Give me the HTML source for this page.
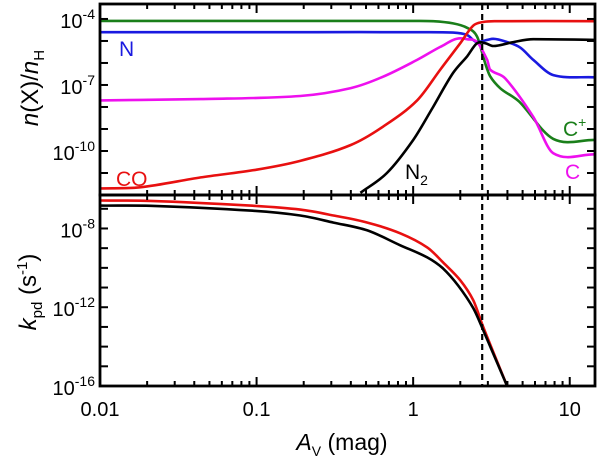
<!DOCTYPE html>
<html><head><meta charset="utf-8"><style>
html,body{margin:0;padding:0;background:#fff;}
svg{display:block;font-family:"Liberation Sans",Arial,sans-serif;}
</style></head><body>
<svg id="chart" width="600" height="459" viewBox="0 0 600 459" xmlns="http://www.w3.org/2000/svg"></svg>
<script>
// ---- data (A_V in mag, values as log10) ----
const coA   = [0.01,0.018,0.044,0.1,0.19,0.40,0.64,1.06,1.49,2.0,2.42,2.8,3.3,14.5];
const coY   = [-11.7,-11.65,-11.2,-10.85,-10.45,-9.73,-8.9,-7.7,-6.3,-5.1,-4.3,-4.14,-4.1,-4.1];
const n2A   = [0.46,0.68,1.0,1.34,1.8,2.21,2.56,2.88,3.24,4.36,5.85,14.5];
const n2Y   = [-11.9,-11.0,-9.5,-8.0,-6.45,-5.7,-5.1,-5.1,-5.23,-5.05,-4.92,-4.95];
const cpA   = [0.01,0.1,1.0,1.34,1.8,2.21,2.56,2.88,3.1,3.6,4.36,4.83,7.85,14.5];
const cpY   = [-4.09,-4.09,-4.09,-4.1,-4.2,-4.4,-4.8,-6.0,-6.6,-7.15,-7.55,-7.8,-9.45,-9.5];
const nA    = [0.01,0.1,1.0,1.8,2.21,2.56,2.97,3.24,3.99,4.83,5.85,7.85,14.5];
const nY    = [-4.6,-4.6,-4.6,-4.62,-4.73,-5.05,-4.95,-4.9,-5.05,-5.3,-5.86,-6.55,-6.65];
const cA    = [0.01,0.044,0.19,0.40,0.64,1.06,1.49,2.0,2.21,2.56,2.97,3.1,3.87,5.85,7.85,14.5];
const cY    = [-7.7,-7.64,-7.5,-7.14,-6.63,-5.86,-5.27,-4.88,-4.92,-5.05,-5.86,-6.3,-6.7,-8.45,-10.1,-10.15];
const kRedA = [0.01,0.021,0.091,0.19,0.31,0.51,0.83,1.23,1.55,2.0,2.42,2.8,3.98];
const kRedY = [-6.58,-6.6,-6.84,-7.04,-7.34,-7.7,-8.25,-8.96,-9.72,-10.63,-11.65,-13.0,-16];
const kBlkA = [0.01,0.021,0.091,0.19,0.31,0.51,0.83,1.23,1.55,1.94,2.42,2.8,3.98];
const kBlkY = [-6.84,-6.85,-7.09,-7.34,-7.7,-8.1,-8.86,-9.47,-10.03,-10.9,-12.05,-13.16,-16];
const xTickLabels = ["0.01","0.1","1","10"];
const topTickExp = ["-4","-7","-10"];
const botTickExp = ["-8","-12","-16"];
const dashedA = 2.76;

const svg=document.getElementById('chart');
const NS="http://www.w3.org/2000/svg";
const L=100,R=595;
const lxMin=-2,lxMax=Math.log10(14.5);
function X(a){return L+(Math.log10(a)-lxMin)/(lxMax-lxMin)*(R-L);}
const T={top:4,bot:195,ymax:-3.32,ymin:-12};
const B={top:195,bot:386,ymax:-6.3,ymin:-16};
function Y(p,v){return p.bot-(v-p.ymin)/(p.ymax-p.ymin)*(p.bot-p.top);}
function el(tag,attrs,parent){const e=document.createElementNS(NS,tag);for(const k in attrs)e.setAttribute(k,attrs[k]);(parent||svg).appendChild(e);return e;}

const defs=el('defs',{});
const c1=el('clipPath',{id:'ct'},defs);
el('rect',{x:L,y:T.top,width:R-L,height:T.bot-T.top},c1);
const c2=el('clipPath',{id:'cb'},defs);
el('rect',{x:L,y:B.top,width:R-L,height:B.bot-B.top},c2);

function smoothPath(px,py){
  const n=px.length;const d=[],m=new Array(n);
  for(let i=0;i<n-1;i++)d.push((py[i+1]-py[i])/(px[i+1]-px[i]));
  m[0]=d[0];m[n-1]=d[n-2];
  for(let i=1;i<n-1;i++){
    if(d[i-1]*d[i]<0){m[i]=0;}
    else m[i]=(py[i+1]-py[i-1])/(px[i+1]-px[i-1]);
  }
  let s='M'+px[0].toFixed(1)+','+py[0].toFixed(1);
  for(let i=0;i<n-1;i++){const h=(px[i+1]-px[i])/3;
    s+=' C'+(px[i]+h).toFixed(1)+','+(py[i]+m[i]*h).toFixed(1)+' '+(px[i+1]-h).toFixed(1)+','+(py[i+1]-m[i+1]*h).toFixed(1)+' '+px[i+1].toFixed(1)+','+py[i+1].toFixed(1);}
  return s;
}
function series(p,xs,ys,color,name,clipId){
  const d=smoothPath(xs.map(X),ys.map(v=>Y(p,v)));
  const path=el('path',{d:d,fill:'none',stroke:color,'stroke-width':2.6,'stroke-linejoin':'round','clip-path':'url(#'+clipId+')'});
  
  
}
series(T,cpA,cpY,'#1a7f1a','c-plus-line','ct');
series(T,nA,nY,'#1a1ae0','n-line','ct');
series(T,cA,cY,'#ee10ee','c-line','ct');
series(T,coA,coY,'#e81010','co-line','ct');
series(T,n2A,n2Y,'#000','n2-line','ct');
series(B,kRedA,kRedY,'#e81010','kpd-co-line','cb');
series(B,kBlkA,kBlkY,'#000','kpd-n2-line','cb');

const dl=el('line',{x1:X(dashedA),x2:X(dashedA),y1:T.top,y2:B.bot,stroke:'#000','stroke-width':2.2,'stroke-dasharray':'6,4'});



const tk=el('g',{stroke:'#000','stroke-width':2});


for(const p of [T,B]){
  for(let e=-2;e<=1;e++)for(let m=1;m<=9;m++){
    const a=m*Math.pow(10,e);if(a>14.5)continue;const x=X(a);const len=m===1?9:5;
    el('line',{x1:x,x2:x,y1:p.bot,y2:p.bot-len},tk);
    el('line',{x1:x,x2:x,y1:p.top,y2:p.top+len},tk);
  }
  for(let v=Math.ceil(p.ymin);v<=p.ymax;v++){const y=Y(p,v);
    el('line',{x1:L,x2:L+8,y1:y,y2:y},tk);el('line',{x1:R,x2:R-8,y1:y,y2:y},tk);}
}
for(const [p,n] of [[T,'top-panel-frame'],[B,'bottom-panel-frame']]){
  const r=el('rect',{x:L,y:p.top,width:R-L,height:p.bot-p.top,fill:'none',stroke:'#000','stroke-width':2.8});
  
}
function txt(x,y,s,opt,name){const t=el('text',Object.assign({x:x,y:y,'font-size':19,fill:'#000'},opt||{}));t.innerHTML=s;return t;}
xTickLabels.forEach(s=>{txt(X(parseFloat(s)),416,s,{'text-anchor':'middle','font-size':20},'x-tick-label');});
function ylab(p,e){const y=Y(p,parseFloat(e));txt(L-5,y+9,'10<tspan dy="-9" font-size="14">'+e+'</tspan>',{'text-anchor':'end','font-size':20},'y-tick-label');}
topTickExp.forEach(e=>ylab(T,e));
botTickExp.forEach(e=>ylab(B,e));
txt(342,450,'<tspan font-style="italic">A</tspan><tspan font-size="14" dy="6">V</tspan><tspan dy="-6"> (mag)</tspan>',{'text-anchor':'middle','font-size':23},'x-axis-title');
txt(0,0,'<tspan font-style="italic">n</tspan>(X)/<tspan font-style="italic">n</tspan><tspan font-size="15" dy="6">H</tspan>',{'text-anchor':'middle','font-size':24,transform:'translate(38,88) rotate(-90)'},'top-y-axis-title');
txt(0,0,'<tspan font-style="italic">k</tspan><tspan font-size="15" dy="6">pd</tspan><tspan dy="-6"> (s</tspan><tspan font-size="15" dy="-9">-1</tspan><tspan dy="9">)</tspan>',{'text-anchor':'middle','font-size':24,transform:'translate(36,292) rotate(-90)'},'bottom-y-axis-title');
txt(119,56,'N',{fill:'#1a1ae0','font-size':21},'n-label');
txt(116,186,'CO',{fill:'#e81010','font-size':21},'co-label');
txt(405,179,'N<tspan font-size="14" dy="6">2</tspan>',{'font-size':21},'n2-label');
txt(563,136,'C<tspan font-size="14" dy="-9">+</tspan>',{fill:'#1a7f1a','font-size':21},'c-plus-label');
txt(565,179,'C',{fill:'#ee10ee','font-size':21},'c-label');
</script>
</body></html>
